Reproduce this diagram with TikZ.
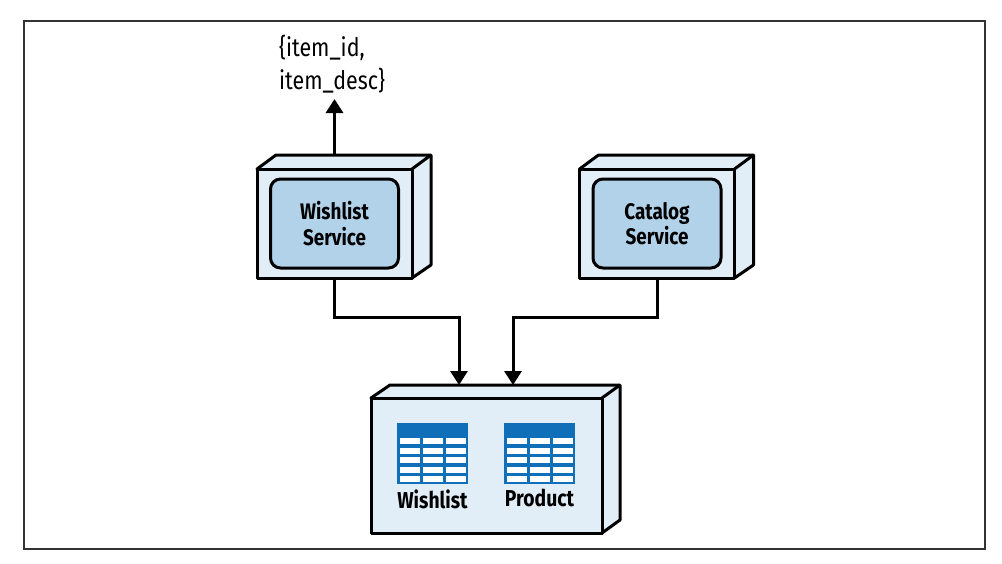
\documentclass[tikz,border=0pt]{standalone}
\usepackage{fontspec}
\setmainfont[FakeStretch=0.84]{Fira Sans}
\usetikzlibrary{positioning}
\usetikzlibrary{calc}
\usetikzlibrary{arrows.meta}
\definecolor{facecol}{HTML}{E2EEF7}
\definecolor{svccol}{HTML}{B2D2E9}
\definecolor{tablecol}{HTML}{0F6FB8}
\definecolor{framecol}{HTML}{333333}

\begin{document}
\begin{tikzpicture}[x=1pt,y=-1pt,
	face/.style={draw=black,fill=facecol,line width=3pt,line join=round},
	front node/.style={shape=rectangle,face,inner sep=0,minimum width=155pt,minimum height=109pt},
	db node/.style={shape=rectangle,face,inner sep=0,minimum width=231pt,minimum height=135pt},
	svc node/.style={shape=rectangle,rounded corners=10pt,draw=black,fill=svccol,line width=3pt,inner sep=0,minimum width=128pt,minimum height=89pt,align=center,font=\fontsize{22.5}{25.5}\selectfont\bfseries},
	table node/.style={shape=rectangle,fill=tablecol,inner sep=0,minimum width=71pt,minimum height=61pt},
	name node/.style={inner sep=0,font=\fontsize{23}{26}\selectfont\bfseries},
	link/.style={draw=black,line width=3pt,-{Triangle[length=14pt,width=17pt]}},
]
	\useasboundingbox (0,0) rectangle (1002,563);
	\node[draw=framecol,line width=1.6pt,inner sep=0,minimum width=961pt,minimum height=528pt] (frame) at (504.5,285){};

	%boxes + side faces
	\foreach \name/\x in {wishbox/334.5,catbox/657}
	{
		\draw[face] (\x-77.5,169) -- ++(19,-14) -- ++(155,0) -- ++(0,110) -- ++(-19,13) -- cycle;
		\draw[face] (\x+77.5,169) -- ++(19,-14);
		\node[front node] (\name) at (\x,223.5){};
	}
	\draw[face] (371,398) -- ++(19,-13) -- ++(230,0) -- ++(0,135) -- ++(-18,13) -- cycle;
	\draw[face] (602,398) -- ++(18,-13);
	\node[db node] (dbbox) at (486.5,465.5){};

	\node[svc node] (wishsvc) at (wishbox){Wishlist\\Service};
	\node[svc node] (catsvc) at (catbox){Catalog\\Service};

	%tables
	\foreach \name/\x/\txt in {wishtab/432.5/Wishlist,prodtab/539.5/Product}
	{
		\node[table node] (\name) at (\x,453.5){};
		\foreach \i in {0,...,4}
		{
			\foreach \j in {-1,0,1}
			{
				\fill[white] (\x+\j*23-10,438+\i*9.5) rectangle ++(20,6.2);
			}
		}
		\node[name node,below=5pt of \name] (lab\name) {\txt};
	}

	%free ends
	\coordinate (wishtop) at (334.5,155);
	\coordinate (itemtip) at (334.5,99);
	\coordinate (dbin1) at (459,385);
	\coordinate (dbin2) at (513,385);
	\node[align=left,anchor=south west,inner sep=0,font=\fontsize{25.5}{33}\selectfont] (itemlab) at (279,93){\{item\_id,\\item\_desc\}};

	\draw[link] (wishtop) -- (itemtip);
	\draw[link] (wishbox.south) -- ++(0,38) -| (dbin1);
	\draw[link] (catbox.south) -- ++(0,38) -| (dbin2);
\end{tikzpicture}
\end{document}
